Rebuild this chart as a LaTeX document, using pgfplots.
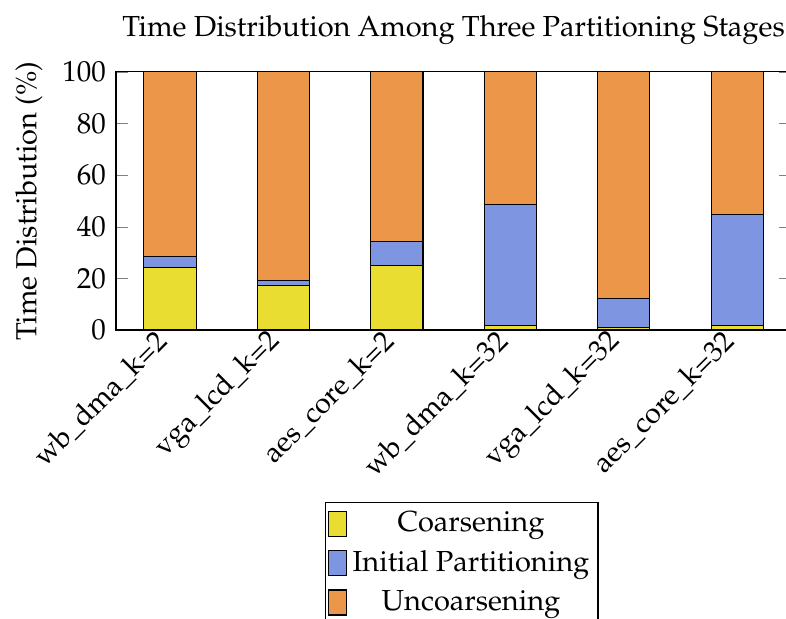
\documentclass[border=0pt]{standalone}
\usepackage[T1]{fontenc}
\usepackage{mathpazo}
\usepackage{pgfplots}
\pgfplotsset{compat=1.18}
\definecolor{cyel}{RGB}{232,221,48}
\definecolor{cblu}{RGB}{126,150,226}
\definecolor{corg}{RGB}{236,150,74}
\begin{document}
\begin{tikzpicture}
\begin{axis}[
  name=ax,
  scale only axis,
  width=232.8pt, height=89pt,
  ybar stacked, bar width=0.46, bar shift=0pt,
  xmin=-0.476, xmax=5.476,
  ymin=0, ymax=100,
  ytick={0,20,40,60,80,100},
  xtick={0,1,2,3,4,5},
  xticklabels={wb\_dma\_k=2,vga\_lcd\_k=2,aes\_core\_k=2,wb\_dma\_k=32,vga\_lcd\_k=32,aes\_core\_k=32},
  x tick label style={rotate=45, anchor=east},
  xtick style={draw=none},
  ylabel={Time Distribution (\%)},
  title={Time Distribution Among Three Partitioning Stages},
  legend style={at={(0.512,-0.667)}, anchor=north, legend columns=1, draw=black, inner sep=1pt, row sep=1pt},
  legend cell align=center,
  legend image code/.code={\draw[#1,draw=black] (0pt,-4.3pt) rectangle (6pt,4.3pt);},
]
\addplot[fill=cyel, draw=black] coordinates {(0,24.1) (1,17.3) (2,25.1) (3,1.9) (4,0.9) (5,1.8)};
\addplot[fill=cblu, draw=black] coordinates {(0,4.5) (1,2.0) (2,9.3) (3,46.8) (4,11.2) (5,43.0)};
\addplot[fill=corg, draw=black] coordinates {(0,71.4) (1,80.7) (2,65.6) (3,51.3) (4,87.9) (5,55.2)};
\legend{Coarsening,Initial Partitioning,Uncoarsening}
\end{axis}
\pgfresetboundingbox
\path ([xshift=-40pt,yshift=-99.3pt]ax.south west) rectangle ([xshift=231pt,yshift=24.8pt]ax.north west);
\end{tikzpicture}
\end{document}
